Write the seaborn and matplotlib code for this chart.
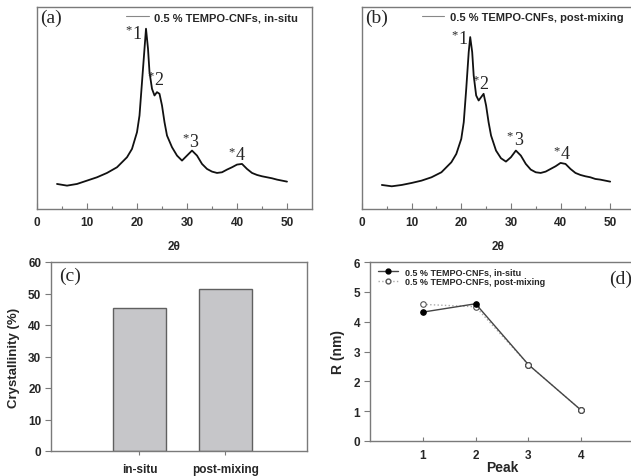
import numpy as np
import pandas as pd
import matplotlib
matplotlib.use("Agg")
import matplotlib.pyplot as plt
import seaborn as sns
from matplotlib.lines import Line2D

sns.set_theme(style="white")
plt.rcParams['font.family'] = ['Liberation Sans', 'DejaVu Sans']

# ---- data ----
two_theta = [4, 6, 8, 10, 12, 14, 16, 18, 19, 20, 20.5, 21, 21.5, 21.8, 22.2, 22.5, 23, 23.5,
             24, 24.5, 25, 25.5, 26, 27, 28, 29, 30, 31, 32, 33, 34, 35, 36, 37, 38, 39,
             40, 41, 42, 43, 44, 45, 46, 47, 48, 49, 50]
intensity_insitu = [75, 70, 75, 85, 95, 108, 125, 155, 180, 230, 280, 380, 480, 540, 480, 410,
                    360, 340, 350, 345, 310, 260, 220, 185, 160, 145, 160, 175, 160, 135, 120,
                    112, 108, 110, 118, 125, 133, 135, 120, 108, 102, 98, 95, 92, 88, 85, 82]
intensity_post = [72, 68, 72, 78, 85, 95, 110, 140, 165, 210, 260, 360, 470, 515, 470, 400,
                  340, 325, 335, 345, 310, 260, 220, 175, 152, 142, 155, 175, 160, 135, 118,
                  110, 108, 112, 120, 128, 138, 135, 120, 108, 102, 98, 95, 90, 88, 85, 82]

peak_labels = ["1", "2", "3", "4"]
peak_pos_a = [(20.0, 525), (24.4, 388), (31.4, 202), (40.7, 162)]
peak_pos_b = [(20.3, 510), (24.5, 375), (31.5, 208), (40.9, 165)]

samples = ["in-situ", "post-mixing"]
crystallinity = [45.5, 51.3]

peaks = [1, 2, 3, 4]
R_insitu = [4.32, 4.60, 2.56, 1.03]
R_post = [4.58, 4.50, 2.56, 1.03]

label_a = "0.5 % TEMPO-CNFs, in-situ"
label_b = "0.5 % TEMPO-CNFs, post-mixing"

W, H = 631, 477
fig = plt.figure(figsize=(W / 100, H / 100), dpi=100)
fig.patch.set_facecolor("white")

spine_col = "#7a7a7a"
serif = ['Liberation Serif', 'DejaVu Serif']


def frac(l, t, r, b):
    return [l / W, 1 - b / H, (r - l) / W, (b - t) / H]


def style_spines(ax):
    for s in ax.spines.values():
        s.set_color(spine_col)
        s.set_linewidth(1.0)


def xrd_panel(ax, y, label, pos, letter, leg_x):
    df = pd.DataFrame({"x": two_theta, "y": y})
    sns.lineplot(data=df, x="x", y="y", ax=ax, color="#111111", linewidth=1.3)
    ax.set_xlim(0, 55)
    ax.set_ylim(0, 605)
    ax.set_yticks([])
    ax.set_xticks([0, 10, 20, 30, 40, 50])
    ax.set_xticks([5, 15, 25, 35, 45], minor=True)
    ax.tick_params(axis="x", which="major", direction="in", length=4, width=0.8,
                   color=spine_col, labelsize=8.5, pad=5, bottom=True)
    ax.tick_params(axis="x", which="minor", direction="in", length=2.5, width=0.8,
                   color=spine_col, bottom=True)
    for t in ax.get_xticklabels():
        t.set_fontweight("bold")
    ax.set_xlabel("2θ", fontsize=8.5, fontweight="bold", labelpad=9)
    ax.set_ylabel("")
    style_spines(ax)
    for (px, py), lab in zip(pos, peak_labels):
        ax.text(px, py, lab, fontsize=13, family=serif, ha="center", va="center")
        ax.text(px - 1.7, py + 12, "*", fontsize=9, family=serif, ha="center", va="center")
    ax.text(0.6, 575, letter, fontsize=14, family=serif, ha="left", va="center")
    h = Line2D([], [], color="#888888", linewidth=0.8)
    ax.legend([h], [label], loc="center left", bbox_to_anchor=(leg_x, 0.95),
              frameon=False, borderpad=0, borderaxespad=0, handlelength=2.0,
              handletextpad=0.5, prop={"weight": "bold", "size": 8})


ax_a = fig.add_axes(frac(37, 8, 312, 210))
xrd_panel(ax_a, intensity_insitu, label_a, peak_pos_a, "(a)", 0.325)

ax_b = fig.add_axes(frac(362, 8, 635, 210))
xrd_panel(ax_b, intensity_post, label_b, peak_pos_b, "(b)", 0.22)

# ---- (c) ----
ax_c = fig.add_axes(frac(51, 263, 307, 452))
dfc = pd.DataFrame({"sample": samples, "cryst": crystallinity})
sns.barplot(data=dfc, x="sample", y="cryst", ax=ax_c, color="#c6c6c9",
            edgecolor="#606060", linewidth=1.0, width=0.62, saturation=1)
ax_c.set_xlim(-1.03, 1.95)
ax_c.set_ylim(0, 60)
ax_c.set_yticks([0, 10, 20, 30, 40, 50, 60])
ax_c.tick_params(axis="y", direction="out", length=4, width=0.8, color=spine_col,
                 labelsize=8.5, pad=3, left=True)
ax_c.tick_params(axis="x", direction="out", length=3, width=0.8, color=spine_col,
                 labelsize=8.5, pad=6, bottom=True)
for t in ax_c.get_xticklabels() + ax_c.get_yticklabels():
    t.set_fontweight("bold")
ax_c.set_xlabel("")
ax_c.set_ylabel("Crystallinity (%)", fontsize=9.5, fontweight="bold", labelpad=6)
ax_c.text(0.03, 0.93, "(c)", transform=ax_c.transAxes, fontsize=14, family=serif,
          ha="left", va="center")
style_spines(ax_c)

# ---- (d) ----
ax_d = fig.add_axes(frac(370, 263, 634, 442))
dfd1 = pd.DataFrame({"peak": peaks, "R": R_insitu})
dfd2 = pd.DataFrame({"peak": peaks, "R": R_post})
ms = 4
sns.lineplot(data=dfd2, x="peak", y="R", ax=ax_d, color="#aaaaaa", linestyle=":",
             linewidth=1.0, marker="o", markersize=ms, markerfacecolor="white",
             markeredgecolor="#555555", markeredgewidth=0.8)
sns.lineplot(data=dfd1, x="peak", y="R", ax=ax_d, color="#444444", linestyle="-",
             linewidth=1.0, marker="o", markersize=ms, markerfacecolor="black",
             markeredgecolor="black")
ax_d.plot(peaks[2:], R_post[2:], linestyle="none", marker="o", markersize=ms,
          markerfacecolor="white", markeredgecolor="#555555", markeredgewidth=0.8, zorder=5)
ax_d.set_xlim(0, 5)
ax_d.set_ylim(0, 6)
ax_d.set_xticks([1, 2, 3, 4])
ax_d.set_yticks([0, 1, 2, 3, 4, 5, 6])
ax_d.tick_params(axis="y", direction="out", length=4, width=0.8, color=spine_col,
                 labelsize=8.5, pad=3, left=True)
ax_d.tick_params(axis="x", direction="in", length=3, width=0.8, color=spine_col,
                 labelsize=8.5, pad=6, bottom=True)
for t in ax_d.get_xticklabels() + ax_d.get_yticklabels():
    t.set_fontweight("bold")
ax_d.set_xlabel("Peak", fontsize=10, fontweight="bold", labelpad=-1)
ax_d.set_ylabel("R (nm)", fontsize=10, fontweight="bold", labelpad=6)
h1 = Line2D([], [], color="#444444", linestyle="-", linewidth=1.0, marker="o",
            markersize=3.5, markerfacecolor="black", markeredgecolor="black")
h2 = Line2D([], [], color="#aaaaaa", linestyle=":", linewidth=1.0, marker="o",
            markersize=3.5, markerfacecolor="white", markeredgecolor="#555555")
ax_d.legend([h1, h2], [label_a, label_b], loc="upper left", bbox_to_anchor=(0.03, 0.97),
            frameon=False, borderpad=0, borderaxespad=0, handlelength=2.2,
            handletextpad=0.8, labelspacing=0.1, prop={"weight": "bold", "size": 6.5})
ax_d.text(4.53, 5.45, "(d)", fontsize=14, family=serif, ha="left", va="center")
style_spines(ax_d)

fig.savefig("out.png", dpi=100)
